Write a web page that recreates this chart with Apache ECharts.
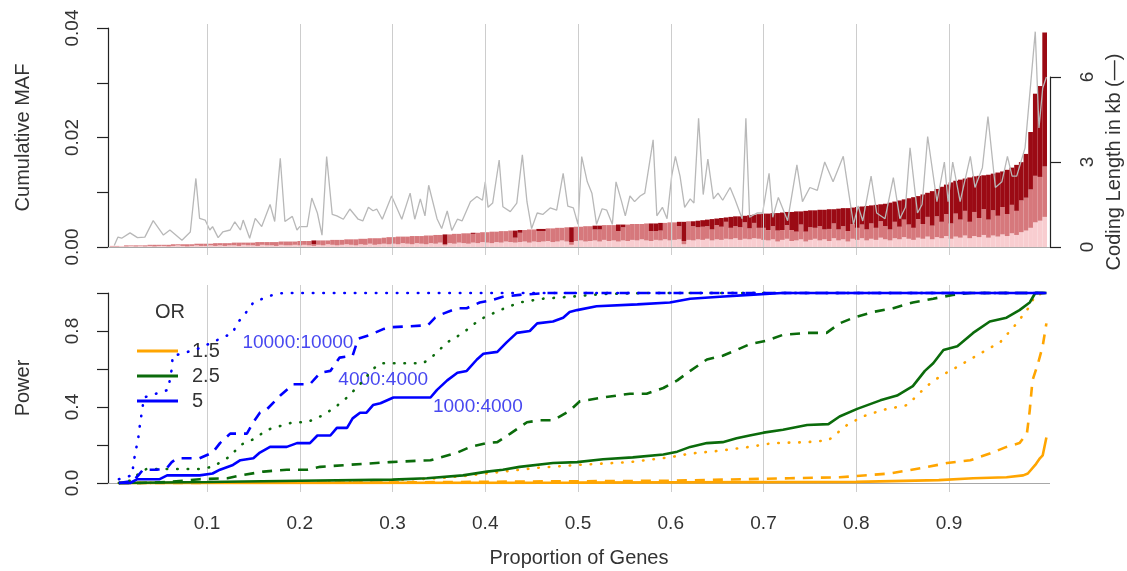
<!DOCTYPE html>
<html><head><meta charset="utf-8">
<script src="https://cdn.jsdelivr.net/npm/echarts@6/dist/echarts.min.js"></script>
<style>html,body{margin:0;padding:0;background:#fff}#c{width:1127px;height:571px}</style>
</head><body><div id="c"></div>
<script>
const FONT = "'Liberation Sans', Arial, sans-serif";

// ---- Top panel: cumulative MAF per gene, split in three classes (stacked) ----
const mafLightPink = [
0.0001,0.0001,0.0002,0.0001,0.0002,0.0001,0.0002,0.0001,0.0002,0.0001,
0.0002,0.0002,0.0001,0.0002,0.0003,0.0002,0.0001,0.0002,0.0003,0.0002,
0.0002,0.0003,0.0002,0.0003,0.0002,0.0003,0.0003,0.0002,0.0004,0.0003,
0.0003,0.0002,0.0004,0.0003,0.0003,0.0002,0.0004,0.0003,0.0003,0.0004,
0.0003,0.0004,0.0003,0.0002,0.0004,0.0003,0.0005,0.0004,0.0003,0.0004,
0.0005,0.0004,0.0003,0.0005,0.0004,0.0006,0.0004,0.0005,0.0006,0.0005,
0.0006,0.0005,0.0007,0.0006,0.0005,0.0007,0.0006,0.0005,0.0007,0.0006,
0.0008,0.0003,0.0007,0.0006,0.0008,0.0007,0.0006,0.0008,0.0007,0.0009,
0.0008,0.0007,0.0009,0.0008,0.0010,0.0009,0.0008,0.0009,0.0010,0.0008,
0.0010,0.0009,0.0010,0.0011,0.0009,0.0010,0.0012,0.0010,0.0004,0.0011,
0.0012,0.0010,0.0011,0.0012,0.0010,0.0013,0.0011,0.0012,0.0010,0.0012,
0.0011,0.0013,0.0012,0.0014,0.0012,0.0011,0.0013,0.0012,0.0014,0.0012,
0.0013,0.0014,0.0005,0.0013,0.0012,0.0014,0.0013,0.0015,0.0012,0.0014,
0.0013,0.0015,0.0014,0.0016,0.0013,0.0015,0.0014,0.0016,0.0015,0.0013,
0.0012,0.0014,0.0010,0.0013,0.0015,0.0011,0.0012,0.0014,0.0010,0.0013,
0.0015,0.0012,0.0014,0.0011,0.0016,0.0012,0.0014,0.0010,0.0015,0.0013,
0.0016,0.0012,0.0015,0.0013,0.0017,0.0014,0.0012,0.0016,0.0014,0.0018,
0.0015,0.0013,0.0017,0.0015,0.0019,0.0014,0.0018,0.0016,0.0020,0.0015,
0.0019,0.0017,0.0021,0.0016,0.0020,0.0018,0.0022,0.0017,0.0021,0.0019,
0.0023,0.0020,0.0025,0.0022,0.0027,0.0030,0.0035,0.0045,0.0048,0.0055];
const mafRose = [
0.0001,0.0001,0,0.0002,0.0001,0.0002,0.0001,0.0002,0.0002,0.0003,
0.0002,0.0002,0.0003,0.0003,0.0002,0.0003,0.0004,0.0003,0.0003,0.0004,
0.0004,0.0003,0.0005,0.0004,0.0005,0.0004,0.0005,0.0006,0.0004,0.0005,
0.0005,0.0007,0.0005,0.0006,0.0006,0.0007,0.0006,0.0007,0.0007,0.0006,
0.0008,0.0007,0.0008,0.0003,0.0008,0.0009,0.0007,0.0009,0.0010,0.0009,
0.0009,0.0010,0.0011,0.0010,0.0011,0.0010,0.0012,0.0011,0.0011,0.0013,
0.0012,0.0014,0.0012,0.0013,0.0015,0.0013,0.0014,0.0016,0.0014,0.0016,
0.0014,0.0002,0.0016,0.0018,0.0016,0.0018,0.0019,0.0016,0.0019,0.0018,
0.0019,0.0021,0.0019,0.0021,0.0019,0.0021,0.0009,0.0017,0.0021,0.0024,
0.0022,0.0020,0.0019,0.0023,0.0025,0.0025,0.0023,0.0026,0.0005,0.0026,
0.0025,0.0028,0.0027,0.0020,0.0022,0.0027,0.0029,0.0028,0.0019,0.0024,
0.0030,0.0029,0.0030,0.0028,0.0031,0.0018,0.0016,0.0018,0.0030,0.0033,
0.0032,0.0024,0.0006,0.0034,0.0026,0.0022,0.0024,0.0023,0.0020,0.0026,
0.0024,0.0031,0.0021,0.0022,0.0023,0.0030,0.0020,0.0028,0.0020,0.0022,
0.0019,0.0024,0.0020,0.0018,0.0025,0.0020,0.0016,0.0027,0.0018,0.0023,
0.0020,0.0026,0.0018,0.0022,0.0027,0.0020,0.0024,0.0019,0.0027,0.0022,
0.0025,0.0020,0.0028,0.0022,0.0030,0.0024,0.0020,0.0030,0.0023,0.0032,
0.0026,0.0022,0.0034,0.0027,0.0036,0.0025,0.0038,0.0030,0.0040,0.0028,
0.0042,0.0033,0.0045,0.0030,0.0044,0.0035,0.0047,0.0033,0.0046,0.0038,
0.0050,0.0040,0.0052,0.0044,0.0058,0.0060,0.0070,0.0085,0.0080,0.0092];
const mafDarkRed = [
0,0,0,0,0,0,0,0,0,0,
0,0,0,0,0,0,0,0,0,0,
0,0,0,0,0,0,0,0,0,0,
0,0,0,0,0,0,0,0,0,0,
0,0,0,0.0007,0,0,0,0,0,0,
0,0,0,0,0,0,0,0,0,0,
0,0,0,0,0,0,0,0,0,0,
0,0.0018,0,0,0,0,0,0.0002,0,0,
0,0,0,0,0,0,0.0013,0.0005,0,0,
0,0.0004,0.0004,0,0,0,0,0,0.0027,0,
0,0,0,0.0007,0.0007,0,0,0,0.0012,0.0005,
0,0,0,0,0,0.0014,0.0014,0.0014,0,0,
0,0.0008,0.0035,0,0.0009,0.0012,0.0012,0.0012,0.0019,0.0012,
0.0016,0.0008,0.0020,0.0018,0.0020,0.0012,0.0024,0.0015,0.0025,0.0026,
0.0030,0.0024,0.0032,0.0032,0.0024,0.0033,0.0037,0.0024,0.0038,0.0031,
0.0032,0.0030,0.0036,0.0036,0.0026,0.0038,0.0033,0.0042,0.0030,0.0038,
0.0033,0.0043,0.0033,0.0042,0.0031,0.0041,0.0049,0.0037,0.0048,0.0037,
0.0048,0.0056,0.0042,0.0054,0.0044,0.0063,0.0050,0.0064,0.0054,0.0075,
0.0060,0.0073,0.0059,0.0081,0.0065,0.0077,0.0062,0.0082,0.0067,0.0079,
0.0065,0.0081,0.0068,0.0084,0.0070,0.0080,0.0105,0.0150,0.0166,0.0245];

// coding length (kb) along proportion of genes: [proportion, kb]
const codingLengthKb = [
[0,0.05],[0.004,0.35],[0.008,0.31],[0.017,0.5],[0.025,0.33],[0.033,0.35],[0.042,0.93],[0.053,0.42],[0.06,0.6],[0.073,0.24],
[0.082,0.53],[0.088,2.42],[0.092,1.01],[0.098,0.95],[0.103,0.6],[0.106,0.72],[0.112,0.33],[0.117,0.53],[0.125,0.6],[0.13,0.89],
[0.136,0.6],[0.139,0.95],[0.146,0.31],[0.152,1.01],[0.159,0.72],[0.168,1.5],[0.173,0.9],[0.179,3.13],[0.184,0.9],[0.192,1.08],
[0.197,0.6],[0.2,0.72],[0.208,0.72],[0.213,1.73],[0.219,1.2],[0.224,0.42],[0.229,3.19],[0.235,1.15],[0.24,1.1],[0.247,0.98],
[0.254,1.34],[0.263,0.98],[0.268,0.92],[0.274,1.4],[0.279,1.28],[0.283,1.34],[0.289,0.98],[0.299,1.8],[0.31,0.98],[0.319,1.9],
[0.324,0.98],[0.33,1.7],[0.335,1.1],[0.339,2.18],[0.348,1.0],[0.353,0.65],[0.359,1.27],[0.364,0.58],[0.37,0.98],[0.375,0.92],
[0.384,1.6],[0.391,1.78],[0.397,1.65],[0.4,2.3],[0.403,1.4],[0.408,1.55],[0.415,3.07],[0.419,1.42],[0.427,1.25],[0.434,1.55],
[0.44,3.25],[0.445,1.59],[0.45,0.65],[0.456,1.2],[0.462,1.15],[0.47,1.38],[0.477,1.3],[0.484,2.6],[0.489,1.44],[0.495,1.38],
[0.5,0.8],[0.504,3.19],[0.51,2.3],[0.515,1.9],[0.52,0.8],[0.526,1.35],[0.531,1.3],[0.537,0.8],[0.541,2.3],[0.547,1.6],
[0.551,1.1],[0.556,1.8],[0.561,1.6],[0.567,1.8],[0.572,1.9],[0.581,3.78],[0.585,1.1],[0.591,1.4],[0.596,1.0],[0.601,2.5],
[0.605,3.2],[0.61,2.5],[0.615,1.4],[0.621,1.7],[0.625,1.55],[0.63,4.54],[0.635,1.85],[0.64,3.1],[0.646,1.7],[0.651,1.9],
[0.656,1.65],[0.664,2.1],[0.669,1.7],[0.677,1.0],[0.681,4.54],[0.685,1.05],[0.693,1.2],[0.699,1.2],[0.706,2.6],[0.71,1.05],
[0.716,1.75],[0.726,0.93],[0.736,2.9],[0.742,1.6],[0.75,2.1],[0.758,2.0],[0.766,3.0],[0.775,2.3],[0.786,3.2],[0.797,0.8],
[0.802,1.45],[0.807,0.92],[0.816,2.5],[0.822,1.2],[0.831,1.0],[0.84,2.45],[0.847,1.0],[0.853,1.4],[0.858,3.5],[0.866,1.2],
[0.871,1.5],[0.877,3.9],[0.887,1.6],[0.895,3.0],[0.899,1.6],[0.904,3.0],[0.912,1.6],[0.923,3.2],[0.928,2.1],[0.936,2.8],
[0.942,4.6],[0.95,2.1],[0.957,2.3],[0.963,3.2],[0.968,2.5],[0.973,2.5],[0.982,3.5],[0.993,7.6],[0.997,4.2],[1.001,5.6],[1.005,6.0]];

// ---- Bottom panel: power by OR and sample size (cases:controls) ----
const powerOR5_1000_4000 = [[0.005,0],[0.017,0],[0.025,0.02],[0.049,0.02],[0.057,0.04],[0.092,0.04],[0.106,0.05],[0.114,0.07],[0.128,0.095],[0.136,0.12],[0.15,0.13],[0.157,0.16],[0.168,0.19],[0.186,0.19],[0.197,0.21],[0.211,0.21],[0.219,0.25],[0.233,0.25],[0.24,0.29],[0.251,0.29],[0.257,0.34],[0.265,0.37],[0.272,0.37],[0.279,0.41],[0.287,0.42],[0.301,0.45],[0.341,0.45],[0.348,0.49],[0.359,0.54],[0.37,0.58],[0.38,0.59],[0.391,0.65],[0.398,0.68],[0.413,0.69],[0.423,0.74],[0.434,0.79],[0.448,0.8],[0.456,0.84],[0.473,0.85],[0.484,0.87],[0.491,0.9],[0.499,0.91],[0.52,0.93],[0.564,0.94],[0.599,0.95],[0.621,0.97],[0.653,0.98],[0.685,0.99],[0.72,1.0],[1.005,1.0]];
const powerOR5_4000_4000 = [[0.005,0],[0.02,0.01],[0.026,0.04],[0.031,0.07],[0.046,0.07],[0.057,0.08],[0.062,0.11],[0.068,0.13],[0.092,0.13],[0.106,0.16],[0.114,0.21],[0.125,0.26],[0.143,0.26],[0.15,0.32],[0.157,0.37],[0.165,0.39],[0.179,0.46],[0.193,0.52],[0.211,0.52],[0.222,0.58],[0.233,0.59],[0.243,0.66],[0.257,0.67],[0.263,0.76],[0.276,0.78],[0.29,0.81],[0.299,0.82],[0.338,0.83],[0.346,0.87],[0.354,0.89],[0.37,0.92],[0.38,0.92],[0.394,0.95],[0.405,0.96],[0.419,0.98],[0.437,0.99],[0.467,1.0],[1.005,1.0]];
const powerOR5_10000_10000 = [[0.005,0.02],[0.019,0.04],[0.022,0.14],[0.026,0.24],[0.028,0.32],[0.03,0.38],[0.032,0.45],[0.045,0.47],[0.058,0.49],[0.06,0.5],[0.062,0.6],[0.063,0.67],[0.073,0.68],[0.092,0.71],[0.11,0.75],[0.128,0.79],[0.132,0.84],[0.138,0.87],[0.15,0.95],[0.16,0.97],[0.171,0.99],[0.182,1.0],[1.005,1.0]];
const powerOR25_1000_4000 = [[0.005,0],[0.1,0.005],[0.2,0.012],[0.3,0.018],[0.337,0.025],[0.376,0.04],[0.402,0.06],[0.419,0.07],[0.437,0.085],[0.473,0.105],[0.499,0.11],[0.527,0.125],[0.559,0.135],[0.592,0.15],[0.607,0.165],[0.621,0.19],[0.639,0.21],[0.656,0.215],[0.671,0.235],[0.685,0.25],[0.7,0.265],[0.721,0.28],[0.747,0.305],[0.77,0.31],[0.782,0.35],[0.801,0.39],[0.826,0.435],[0.844,0.46],[0.861,0.51],[0.874,0.59],[0.883,0.63],[0.894,0.7],[0.909,0.72],[0.926,0.79],[0.944,0.85],[0.962,0.87],[0.976,0.91],[0.987,0.95],[0.993,1.0],[1.005,1.0]];
const powerOR25_4000_4000 = [[0.005,0],[0.028,0],[0.057,0.005],[0.092,0.02],[0.122,0.025],[0.136,0.04],[0.161,0.06],[0.186,0.07],[0.208,0.07],[0.222,0.085],[0.251,0.095],[0.297,0.11],[0.341,0.12],[0.37,0.16],[0.384,0.19],[0.402,0.21],[0.413,0.215],[0.427,0.26],[0.445,0.32],[0.459,0.33],[0.473,0.33],[0.491,0.38],[0.502,0.43],[0.527,0.45],[0.556,0.47],[0.574,0.47],[0.592,0.5],[0.607,0.54],[0.621,0.59],[0.639,0.65],[0.656,0.67],[0.671,0.7],[0.685,0.73],[0.704,0.75],[0.721,0.78],[0.747,0.79],[0.768,0.79],[0.782,0.84],[0.797,0.87],[0.818,0.9],[0.84,0.92],[0.861,0.95],[0.883,0.97],[0.904,0.99],[0.923,1.0],[1.005,1.0]];
const powerOR25_10000_10000 = [[0.005,0],[0.02,0.015],[0.028,0.06],[0.035,0.074],[0.092,0.074],[0.106,0.085],[0.125,0.14],[0.136,0.2],[0.15,0.23],[0.165,0.28],[0.179,0.3],[0.193,0.32],[0.208,0.32],[0.222,0.35],[0.236,0.39],[0.251,0.45],[0.265,0.52],[0.279,0.6],[0.287,0.63],[0.333,0.63],[0.344,0.67],[0.359,0.74],[0.376,0.79],[0.394,0.86],[0.416,0.91],[0.437,0.95],[0.462,0.97],[0.491,0.98],[0.527,0.995],[0.577,1.0],[1.005,1.0]];
const powerOR15_1000_4000 = [[0.005,0],[0.5,0.002],[0.8,0.006],[0.889,0.015],[0.926,0.025],[0.962,0.03],[0.98,0.04],[0.985,0.05],[0.993,0.095],[0.998,0.13],[1.001,0.145],[1.005,0.24]];
const powerOR15_4000_4000 = [[0.005,0],[0.3,0.003],[0.45,0.008],[0.6,0.012],[0.728,0.025],[0.782,0.03],[0.836,0.05],[0.872,0.08],[0.898,0.105],[0.923,0.12],[0.944,0.155],[0.962,0.19],[0.976,0.21],[0.984,0.26],[0.987,0.38],[0.99,0.54],[0.996,0.63],[1.001,0.72],[1.005,0.84]];
const powerOR15_10000_10000 = [[0.005,0],[0.2,0.005],[0.3,0.015],[0.35,0.025],[0.384,0.04],[0.419,0.06],[0.456,0.08],[0.499,0.095],[0.556,0.11],[0.599,0.135],[0.621,0.155],[0.653,0.17],[0.685,0.19],[0.71,0.21],[0.747,0.215],[0.77,0.225],[0.79,0.305],[0.807,0.35],[0.829,0.385],[0.855,0.41],[0.876,0.51],[0.89,0.56],[0.912,0.62],[0.933,0.68],[0.955,0.74],[0.973,0.84],[0.987,0.93],[0.993,0.99],[1.005,1.0]];

const xTickValues = [0.1,0.2,0.3,0.4,0.5,0.6,0.7,0.8,0.9];
const orLabels = ['1.5','2.5','5'];
const sampleLabels = ['1000:4000','4000:4000','10000:10000'];

// ---------------------------------------------------------------
const genes = mafLightPink.map((_, i) => String(i + 1));
const X_MIN = -0.00674, X_MAX = 1.00889;
const AX = '#222', TXT = '#333';
const C_OR = {'1.5':'#FFA500','2.5':'#0B6B0B','5':'#0000FF'};

function gridLines(xi, yi) {
  return {
    type:'line', xAxisIndex:xi, yAxisIndex:yi, data:[], z:1, silent:true, symbol:'none',
    markLine:{symbol:'none', silent:true, animation:false, label:{show:false},
      lineStyle:{color:'#CDCDCD', width:1, type:'solid'},
      data: xTickValues.map(v => ({xAxis:v})).concat([{yAxis:0, lineStyle:{color:'#A8A8A8', width:1, type:'solid'}}])}
  };
}
function styleFor(kind, color) {
  if (kind === 'dashed') return {color, width:2.6, type:[10,8]};
  if (kind === 'dotted') return {color, width:2.6, type:[0.5,10], cap:'round'};
  return {color, width:2.6, type:'solid'};
}
function powerSeries(name, data, or, kind, label, coord) {
  const s = {
    name, type:'line', xAxisIndex:4, yAxisIndex:4, data, symbol:'none', showSymbol:false,
    z:5, lineStyle:styleFor(kind, C_OR[or]), itemStyle:{color:C_OR[or]}
  };
  if (label) {
    s.markPoint = {symbol:'rect', symbolSize:1, silent:true, itemStyle:{color:'rgba(0,0,0,0)'},
      label:{show:true, position:'inside', formatter:label, color:'#4848F0', fontSize:19, fontFamily:FONT},
      data:[{coord}]};
  }
  return s;
}
function leftAxis(gi, min, max, interval, labelValues, digits, name) {
  return {gridIndex:gi, type:'value', min, max, interval, position:'left',
    axisLine:{show:true, onZero:false, lineStyle:{color:AX, width:1.2}},
    axisTick:{show:true, length:11, lineStyle:{color:AX, width:1.2}},
    axisLabel:{customValues:labelValues, formatter:v => v.toFixed(digits), rotate:90, fontSize:19, color:TXT, margin:26, fontFamily:FONT},
    splitLine:{show:false},
    name, nameLocation:'middle', nameRotate:90, nameGap:75,
    nameTextStyle:{fontSize:20, color:TXT, fontFamily:FONT}};
}

const option = {
  animation:false,
  textStyle:{fontFamily:FONT},
  title:{text:'OR', left:155, top:302, padding:0, textStyle:{fontSize:20, fontWeight:'normal', color:TXT, fontFamily:FONT}},
  legend:{data:orLabels.map(n => ({name:n, icon:'rect'})), orient:'vertical', left:132, top:336, itemWidth:41, itemHeight:3, itemGap:5,
    selectedMode:false, textStyle:{fontSize:20, color:TXT, fontFamily:FONT, padding:[0,0,0,9], height:20, lineHeight:20}},
  grid:[
    {left:108, top:24, width:942, height:231, outerBoundsMode:'none'},
    {left:110, top:24, width:937, height:231, outerBoundsMode:'none'},
    {left:108, top:28, width:942, height:219, outerBoundsMode:'none'},
    {left:108, top:77, width:942, height:170, outerBoundsMode:'none'},
    {left:108, top:285, width:942, height:207, outerBoundsMode:'none'},
    {left:108, top:293, width:942, height:190, outerBoundsMode:'none'}
  ],
  xAxis:[
    {gridIndex:0, type:'value', min:X_MIN, max:X_MAX, show:false},
    {gridIndex:1, type:'category', data:genes, show:false, boundaryGap:true},
    {gridIndex:2, type:'value', min:0, max:1, show:false},
    {gridIndex:3, type:'value', min:0, max:1, show:false},
    {gridIndex:4, type:'value', min:X_MIN, max:X_MAX,
      axisLine:{show:false}, axisTick:{show:false}, splitLine:{show:false},
      axisLabel:{customValues:xTickValues, formatter:v => v.toFixed(1), fontSize:19, color:TXT, margin:22, fontFamily:FONT},
      name:'Proportion of Genes', nameLocation:'middle', nameGap:56,
      nameTextStyle:{fontSize:20, color:TXT, fontFamily:FONT}},
    {gridIndex:5, type:'value', min:0, max:1, show:false}
  ],
  yAxis:[
    {gridIndex:0, type:'value', min:-0.2824, max:7.871, show:false},
    {gridIndex:1, type:'value', min:-0.001461, max:0.040731, show:false},
    leftAxis(2, 0, 0.04, 0.01, [0,0.02,0.04], 2, 'Cumulative MAF'),
    {gridIndex:3, type:'value', min:0, max:6, interval:3, position:'right',
      axisLine:{show:true, onZero:false, lineStyle:{color:AX, width:1.2}},
      axisTick:{show:true, length:11, lineStyle:{color:AX, width:1.2}},
      axisLabel:{formatter:v => String(v), rotate:90, fontSize:19, color:TXT, margin:28, fontFamily:FONT},
      splitLine:{show:false},
      name:'Coding Length in kb (\u2014)', nameLocation:'middle', nameRotate:90, nameGap:50,
      nameTextStyle:{fontSize:20, color:TXT, fontFamily:FONT}},
    {gridIndex:4, type:'value', min:-0.04737, max:1.0421, show:false},
    leftAxis(5, 0, 1, 0.2, [0,0.4,0.8], 1, 'Power')
  ],
  series:[
    gridLines(0, 0),
    {name:'light', type:'bar', xAxisIndex:1, yAxisIndex:1, stack:'maf', data:mafLightPink, barWidth:'100%', z:2, itemStyle:{color:'#F8CDD0'}, silent:true},
    {name:'rose', type:'bar', xAxisIndex:1, yAxisIndex:1, stack:'maf', data:mafRose, barWidth:'100%', z:2, itemStyle:{color:'#D6787C'}, silent:true},
    {name:'dark', type:'bar', xAxisIndex:1, yAxisIndex:1, stack:'maf', data:mafDarkRed, barWidth:'100%', z:2, itemStyle:{color:'#9B0A14'}, silent:true},
    {name:'coding', type:'line', xAxisIndex:0, yAxisIndex:0, data:codingLengthKb, symbol:'none', z:3,
      lineStyle:{color:'#B8B8B8', width:1.3}, silent:true},
    gridLines(4, 4),
    powerSeries('1.5', powerOR15_1000_4000, '1.5', 'solid'),
    powerSeries('1.5 4000', powerOR15_4000_4000, '1.5', 'dashed'),
    powerSeries('1.5 10000', powerOR15_10000_10000, '1.5', 'dotted'),
    powerSeries('2.5', powerOR25_1000_4000, '2.5', 'solid'),
    powerSeries('2.5 4000', powerOR25_4000_4000, '2.5', 'dashed'),
    powerSeries('2.5 10000', powerOR25_10000_10000, '2.5', 'dotted'),
    powerSeries('5', powerOR5_1000_4000, '5', 'solid', sampleLabels[0], [0.392, 0.40]),
    powerSeries('5 4000', powerOR5_4000_4000, '5', 'dashed', sampleLabels[1], [0.290, 0.542]),
    powerSeries('5 10000', powerOR5_10000_10000, '5', 'dotted', sampleLabels[2], [0.198, 0.737])
  ]
};
const chart = echarts.init(document.getElementById('c'), null, {renderer:'canvas'});
chart.setOption(option);
</script></body></html>
